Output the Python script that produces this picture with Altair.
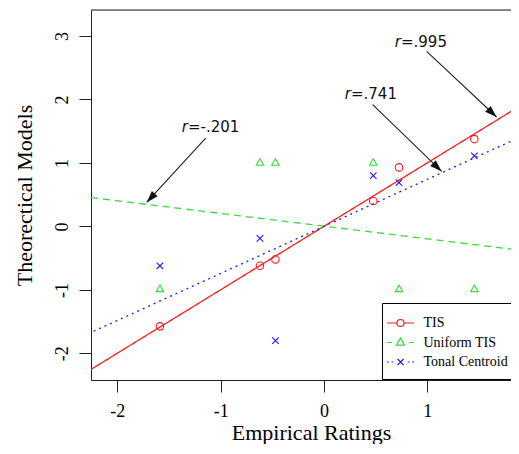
import altair as alt
import numpy as np
import pandas as pd

# ---------------- data ----------------
series_names = ["TIS", "Uniform TIS", "Tonal Centroid"]
empirical = [-1.588, -0.62, -0.47, 0.477, 0.726, 1.455]
tis = [-1.575, -0.62, -0.52, 0.40, 0.93, 1.376]
uniform_tis = [-0.99, 1.0, 1.0, 1.0, -0.99, -0.99]
tonal_centroid = [-0.62, -0.19, -1.80, 0.80, 0.69, 1.11]

x_ticks = [-2, -1, 0, 1]
y_ticks = [-2, -1, 0, 1, 2, 3]
x_domain = [-2.255, 1.81]
y_domain = [-2.42, 3.41]

# annotations: label, arrow start, arrow tip, text anchor (data units)
ann_labels = ["=.995", "=.741", "=-.201"]
ann_x0 = [0.994, 0.471, -1.145]
ann_y0 = [2.758, 1.918, 1.393]
ann_x1 = [1.671, 1.139, -1.716]
ann_y1 = [1.724, 0.867, 0.378]
ann_tx = [0.745, 0.261, -1.316]
ann_ty = [2.905, 2.086, 1.566]

# ---------------- styling ----------------
colors = ["#ff1a1a", "#33e033", "#1a1aff"]
dashes = [[1, 0], [7, 5], [2, 4]]
W, H = 420, 370
SERIF = "Liberation Serif"

rows = []
for name, vals in zip(series_names, [tis, uniform_tis, tonal_centroid]):
    for ex, v in zip(empirical, vals):
        rows.append({"x": ex, "y": v, "series": name})
df = pd.DataFrame(rows)

px_x = W / (x_domain[1] - x_domain[0])
px_y = H / (y_domain[1] - y_domain[0])
ann = pd.DataFrame({"label": ann_labels, "x0": ann_x0, "y0": ann_y0,
                    "x1": ann_x1, "y1": ann_y1, "tx": ann_tx, "ty": ann_ty})
dx = (ann["x1"] - ann["x0"]) * px_x
dy = -(ann["y1"] - ann["y0"]) * px_y
ann["angle"] = np.mod(np.degrees(np.arctan2(dx, -dy)), 360)
ann["r"] = "r"

xs = alt.Scale(domain=x_domain, nice=False, zero=False)
ys = alt.Scale(domain=y_domain, nice=False, zero=False)
xaxis = alt.Axis(values=x_ticks, grid=False, tickSize=12, labelPadding=10,
                 labelExpr="'' + datum.value",
                 labelFont=SERIF, labelFontSize=18, labelColor="black",
                 domainColor="#222", tickColor="#222", labelFlush=False,
                 title="Empirical Ratings", titleFont=SERIF, titleFontSize=22,
                 titleFontWeight="normal", titleColor="black",
                 titleX=220, titleY=59, titleBaseline="alphabetic")
yaxis = alt.Axis(values=y_ticks, grid=False, tickSize=12, labelPadding=12,
                 labelExpr="'' + datum.value",
                 labelAngle=270, labelAlign="center", labelBaseline="alphabetic",
                 labelFont=SERIF, labelFontSize=18, labelColor="black",
                 domainColor="#222", tickColor="#222", labelFlush=False,
                 title="Theorectical Models", titleFont=SERIF, titleFontSize=22,
                 titleFontWeight="normal", titleColor="black", titleAngle=270,
                 titleX=-59.5, titleY=185, titleAlign="center",
                 titleBaseline="alphabetic")


def X(f):
    return alt.X(f, type="quantitative", scale=xs, axis=xaxis)


def Y(f):
    return alt.Y(f, type="quantitative", scale=ys, axis=yaxis)


marker_shapes = ["circle", "M0,-1.1L1,0.63L-1,0.63Z", "M-1,-1L1,1M-1,1L1,-1"]
marker_sizes = [56, 56, 42]
# legend key glyphs (line + marker), unit = 9 px
legend_paths = [
    "M-1.5,0L-0.39,0M0.39,0L1.5,0M0.39,0A0.39,0.39,0,1,1,-0.39,0A0.39,0.39,0,1,1,0.39,0",
    "M-1.5,0L-0.95,0M0.95,0L1.5,0M0,-0.5L0.45,0.3L-0.45,0.3Z",
    "M-1.5,0L-1.3,0M-1.0,0L-0.8,0M0.8,0L1.0,0M1.3,0L1.5,0"
    "M-0.33,-0.33L0.33,0.33M-0.33,0.33L0.33,-0.33",
]

layers = []
for name, c, d, shp, sz in zip(series_names, colors, dashes, marker_shapes, marker_sizes):
    base = alt.Chart(df).transform_filter(alt.datum.series == name)
    layers.append(
        base.transform_regression("x", "y", extent=[-2.6, 2.2])
        .mark_line(clip=True, color=c, strokeWidth=1.3, strokeDash=d)
        .encode(x=X("x"), y=Y("y"))
    )
    layers.append(
        base.mark_point(shape=shp, size=sz, filled=False, color=c, strokeWidth=1.1,
                        opacity=1, clip=True)
        .encode(x=X("x"), y=Y("y"))
    )

legend = alt.Legend(orient="none", legendX=291, legendY=293, title=None,
                    fillColor="white", strokeColor="black", padding=10,
                    cornerRadius=0, symbolSize=324, symbolStrokeWidth=1.2,
                    symbolOpacity=1, symbolOffset=-1.5, labelOffset=13,
                    labelFont=SERIF, labelFontSize=14, labelColor="black",
                    rowPadding=2.5)
legend_layer = alt.Chart(df).mark_point(opacity=0, filled=False).encode(
    x=X("x"), y=Y("y"),
    color=alt.Color("series:N", scale=alt.Scale(domain=series_names, range=colors),
                    legend=legend),
    shape=alt.Shape("series:N", scale=alt.Scale(domain=series_names, range=legend_paths),
                    legend=legend),
)
layers.append(legend_layer)

shafts = alt.Chart(ann).mark_rule(color="#222", strokeWidth=1.1).encode(
    x=X("x0"), y=Y("y0"), x2="x1", y2="y1")
heads = alt.Chart(ann).mark_point(shape="M0,0L-0.33,1L0.33,1Z", size=576, filled=True,
                                  color="#111", opacity=1).encode(
    x=X("x1"), y=Y("y1"), angle=alt.Angle("angle:Q", scale=None))
r_txt = alt.Chart(ann).mark_text(font="DejaVu Sans", fontSize=15, fontStyle="italic",
                                 align="right", baseline="middle", color="#111").encode(
    x=X("tx"), y=Y("ty"), text="r:N")
val_txt = alt.Chart(ann).mark_text(font="DejaVu Sans", fontSize=15, align="left",
                                   baseline="middle", color="#111").encode(
    x=X("tx"), y=Y("ty"), text="label:N")
top_border = alt.Chart(pd.DataFrame({"a": [0]})).mark_rule(color="#222", strokeWidth=1).encode(
    x=alt.value(0), x2=alt.value(W), y=alt.value(0))

layers += [shafts, heads, r_txt, val_txt, top_border]

chart = alt.layer(*layers).properties(
    width=W, height=H,
    autosize=alt.AutoSizeParams(type="none"),
    padding={"left": 83, "top": 2, "right": 0, "bottom": 64},
).configure_view(stroke=None).configure(background="white")

chart.save("out.html", embed_options={"renderer": "svg", "actions": False})
